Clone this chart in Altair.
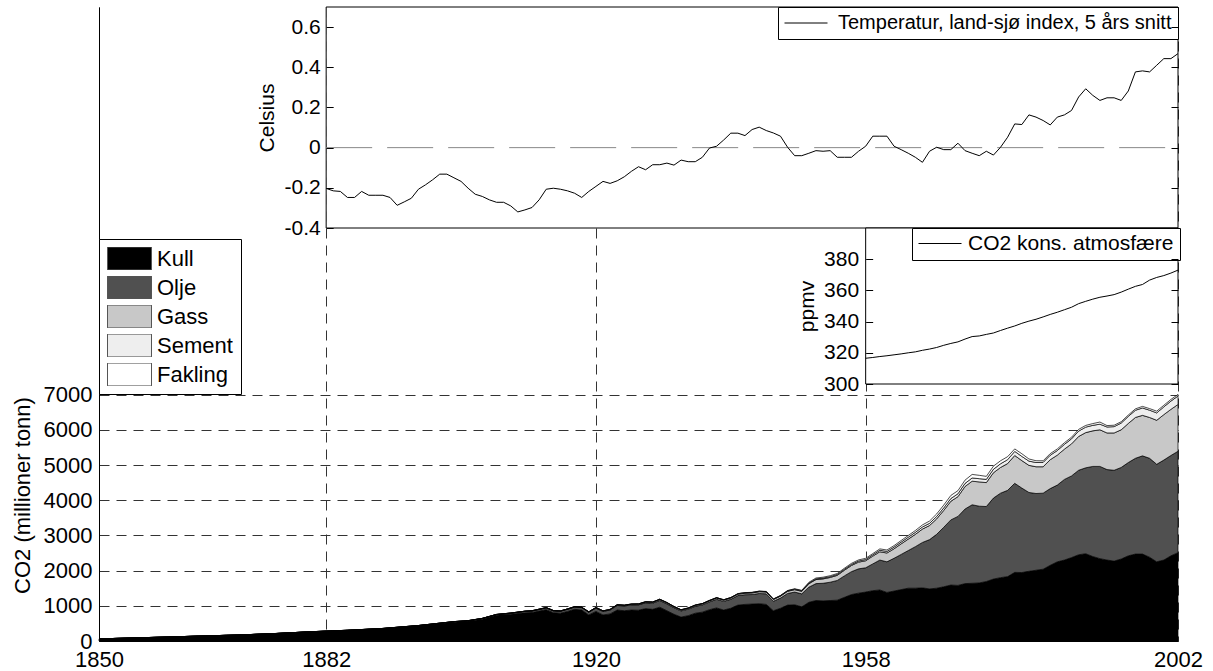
import altair as alt
import pandas as pd

FONT = "Liberation Sans"

# ---------------- data ----------------
fuels = ["Kull", "Olje", "Gass", "Sement", "Fakling"]
fuel_colors = ["#000000", "#505050", "#c8c8c8", "#eeeeee", "#ffffff"]

emis_years = [1850, 1855, 1860, 1865, 1870, 1875, 1880, 1885, 1890, 1895,
              1900, 1902, 1904, 1906, 1908] + list(range(1910, 2003))

kull = [60, 88, 115, 145, 172, 212, 262, 300, 350, 430, 535, 560, 620, 730, 760,
        800, 810, 850, 890, 805, 790, 840, 900, 880, 740,
        840, 740, 770, 880, 860, 880, 875, 920, 900, 960,
        860, 760, 680, 720, 790, 820, 890, 940, 880, 930,
        1020, 1040, 1050, 1060, 1040, 860, 930, 1020, 1030, 970,
        1100, 1150, 1140, 1150, 1160, 1240, 1320, 1360, 1390, 1430,
        1450, 1380, 1420, 1460, 1500, 1500, 1510, 1480, 1500, 1540,
        1590, 1580, 1630, 1640, 1650, 1690, 1760, 1800, 1830, 1950,
        1945, 1980, 2010, 2040, 2150, 2250, 2300, 2370, 2450, 2480,
        2400, 2340, 2300, 2270, 2330, 2420, 2470, 2470, 2380, 2250,
        2300, 2420, 2510]

olje = [0, 0, 0, 0, 1, 2, 3, 4, 5, 7, 12, 14, 18, 20, 28,
        40, 42, 45, 50, 52, 55, 60, 65, 68, 78,
        95, 100, 110, 130, 135, 145, 152, 165, 175, 190,
        195, 185, 175, 185, 195, 205, 220, 245, 245, 255,
        270, 275, 270, 290, 300, 270, 290, 330, 360, 370,
        430, 480, 500, 520, 560, 610, 650, 690, 690, 760,
        850, 870, 930, 1000, 1070, 1180, 1290, 1400, 1530, 1690,
        1850, 1960, 2120, 2230, 2180, 2130, 2300, 2400, 2450, 2530,
        2400, 2240, 2180, 2160, 2180, 2180, 2290, 2320, 2400, 2440,
        2560, 2620, 2570, 2580, 2600, 2650, 2720, 2790, 2810, 2770,
        2840, 2850, 2880]

gass = [0, 0, 0, 0, 0, 0, 0, 1, 2, 3, 4, 4, 5, 5, 6,
        7, 8, 8, 9, 9, 9, 10, 10, 10, 10,
        12, 12, 13, 15, 16, 18, 20, 22, 24, 27,
        28, 27, 25, 25, 27, 29, 32, 35, 35, 37,
        40, 42, 45, 50, 52, 50, 55, 62, 68, 72,
        97, 115, 125, 135, 145, 160, 175, 190, 200, 220,
        235, 250, 270, 300, 325, 350, 380, 400, 440, 480,
        530, 560, 640, 670, 690, 680, 720, 730, 760, 790,
        780, 770, 760, 750, 820, 850, 860, 910, 960, 1000,
        1010, 1040, 1040, 1060, 1070, 1110, 1160, 1150, 1160, 1250,
        1290, 1310, 1330]

sement = [0, 0, 0, 0, 0, 0, 0, 0, 0, 0, 0, 0, 0, 0, 0,
          0, 0, 0, 0, 0, 0, 0, 0, 0, 0,
          5, 5, 6, 7, 7, 8, 8, 9, 10, 10,
          10, 9, 8, 8, 9, 10, 11, 12, 12, 12,
          13, 13, 13, 12, 11, 9, 11, 13, 14, 14,
          18, 20, 22, 23, 26, 28, 30, 32, 35, 38,
          43, 45, 48, 50, 54, 57, 60, 63, 67, 71,
          78, 83, 88, 92, 92, 92, 98, 105, 112, 117,
          120, 121, 121, 125, 128, 131, 137, 143, 152, 156,
          157, 160, 170, 180, 192, 200, 205, 210, 207, 210,
          220, 235, 240]

fakling = [0, 0, 0, 0, 0, 0, 0, 0, 0, 0, 0, 0, 0, 0, 0,
           0, 0, 0, 0, 0, 0, 0, 0, 0, 0,
           0, 0, 0, 0, 0, 0, 0, 0, 0, 0,
           0, 0, 0, 0, 0, 0, 0, 0, 0, 0,
           5, 5, 5, 6, 6, 6, 8, 10, 12, 14,
           23, 25, 26, 27, 27, 29, 31, 32, 34, 35,
           39, 40, 42, 45, 48, 52, 58, 65, 72, 80,
           87, 88, 92, 100, 95, 85, 90, 85, 85, 70,
           75, 60, 50, 45, 45, 46, 46, 45, 50, 48,
           50, 60, 40, 40, 38, 40, 40, 45, 45, 50,
           46, 47, 45]

temp_years = list(range(1882, 2003))
temp = [-0.203, -0.215, -0.218, -0.248, -0.248, -0.218, -0.237, -0.237,
        -0.237, -0.248, -0.287, -0.270, -0.252, -0.207, -0.185, -0.160, -0.132, -0.132,
        -0.150, -0.168, -0.202, -0.232, -0.243, -0.260, -0.272, -0.272, -0.290, -0.320,
        -0.310, -0.298, -0.260, -0.207, -0.202, -0.207, -0.215, -0.227, -0.248, -0.218,
        -0.193, -0.168, -0.178, -0.165, -0.145, -0.118, -0.095, -0.110, -0.085, -0.085,
        -0.077, -0.087, -0.062, -0.070, -0.070, -0.048, -0.002, 0.007, 0.038, 0.072,
        0.072, 0.060, 0.090, 0.102, 0.085, 0.073, 0.057, 0.002, -0.040, -0.040,
        -0.028, -0.015, -0.018, -0.015, -0.048, -0.048, -0.048, -0.018, 0.007, 0.057,
        0.057, 0.057, 0.007, -0.010, -0.028, -0.048, -0.073, -0.018, 0.002, -0.010,
        -0.010, 0.022, -0.015, -0.028, -0.040, -0.018, -0.037, 0.002, 0.052, 0.118,
        0.115, 0.163, 0.152, 0.135, 0.113, 0.152, 0.163, 0.185, 0.252, 0.293,
        0.260, 0.235, 0.248, 0.248, 0.235, 0.282, 0.377, 0.382, 0.377, 0.410,
        0.443, 0.443, 0.468]

co2_years = list(range(1958, 2003))
co2_ppm = [316.5, 317.0, 317.6, 318.1, 318.7, 319.3, 320.0, 320.6, 321.6, 322.4,
           323.4, 324.8, 326.0, 327.0, 328.8, 330.4, 330.8, 331.8, 332.7, 334.3,
           335.8, 337.2, 338.9, 340.3, 341.5, 343.0, 344.6, 346.0, 347.6, 349.2,
           351.5, 353.0, 354.4, 355.6, 356.4, 357.3, 358.9, 360.8, 362.6, 363.8,
           366.6, 368.3, 369.5, 371.1, 373.0]

temp_label = "Temperatur, land-sjø index, 5 års snitt"
co2_label = "CO2 kons. atmosfære"

x_ticks = [1850, 1882, 1920, 1958, 2002]
emis_ticks = [0, 1000, 2000, 3000, 4000, 5000, 6000, 7000]
temp_ticks = [-0.4, -0.2, 0, 0.2, 0.4, 0.6]
co2_ticks = [300, 320, 340, 360, 380]
temp_domain = [-0.4, 0.7]
co2_domain = [300, 400]

# ---------------- layout ----------------
W, H = 1079, 634
YEAR0, YEAR1 = emis_years[0], emis_years[-1]


def xpx(yr):
    return (yr - YEAR0) * W / (YEAR1 - YEAR0)


EMIS_PX_PER_UNIT = 0.0352
emis_ymax = H / EMIS_PX_PER_UNIT
TEMP_BOTTOM = 221
CO2_BOTTOM = 377
xT0 = xpx(temp_years[0])
xC0 = xpx(co2_years[0])

GRID_DASH = [10, 7]
GRID_COLOR = "#333333"

# ---------------- tables ----------------
series = [kull, olje, gass, sement, fakling]
rows = []
for rank, (name, vals) in enumerate(zip(fuels, series)):
    for yr, v in zip(emis_years, vals):
        rows.append({"year": yr, "fuel": name, "value": v, "rank": rank})
emis_df = pd.DataFrame(rows)

temp_df = pd.DataFrame({"year": temp_years, "t": temp, "serie": temp_label})
co2_df = pd.DataFrame({"year": co2_years, "ppm": co2_ppm, "serie": co2_label})

temp_box = pd.DataFrame({"x0": [temp_years[0]], "x1": [temp_years[-1]],
                         "y0": [temp_domain[0]], "y1": [temp_domain[1]]})
co2_box = pd.DataFrame({"x0": [co2_years[0]], "x1": [co2_years[-1]],
                        "y0": [co2_domain[0]], "y1": [co2_domain[1]]})
zero_df = pd.DataFrame({"x0": [temp_years[0]], "x1": [temp_years[-1]], "t": [0]})

# ---------------- scales ----------------
x_emis = alt.Scale(domain=[YEAR0, YEAR1], range=[0, W], nice=False, zero=False)
y_emis = alt.Scale(domain=[0, emis_ymax], range=[H, 0], nice=False, zero=False)
x_temp = alt.Scale(domain=[temp_years[0], temp_years[-1]], range=[xT0, W], nice=False, zero=False)
y_temp = alt.Scale(domain=temp_domain, range=[TEMP_BOTTOM, 0], nice=False, zero=False)
x_co2 = alt.Scale(domain=[co2_years[0], co2_years[-1]], range=[xC0, W], nice=False, zero=False)
y_co2 = alt.Scale(domain=co2_domain, range=[CO2_BOTTOM, TEMP_BOTTOM], nice=False, zero=False)

minus_fmt = ("datum.value == 0 ? '0' : (datum.value < 0 ? '-' + format(-datum.value, '.1f')"
             " : format(datum.value, '.1f'))")


def tick_axis(orient, offset, values):
    return alt.Axis(orient=orient, offset=offset, values=values, labels=False,
                    domain=False, ticks=True, tickSize=7, tickColor="black",
                    grid=False, title=None, zindex=1)


# ---------------- layers ----------------
area = alt.Chart(emis_df).mark_area(
    stroke="black", strokeWidth=0.7, opacity=1, interpolate="linear"
).encode(
    x=alt.X("year:Q", scale=x_emis,
            axis=alt.Axis(values=x_ticks, format="d", grid=True, gridDash=GRID_DASH,
                          gridColor=GRID_COLOR, gridWidth=1, ticks=False, domain=True,
                          domainColor="black", labelPadding=8, labelFlush=False,
                          labelOverlap=False, labelFontSize=22, title=None)),
    y=alt.Y("value:Q", stack="zero", scale=y_emis,
            axis=alt.Axis(values=emis_ticks, format="d", grid=True, gridDash=GRID_DASH,
                          gridColor=GRID_COLOR, gridWidth=1, ticks=False, domain=True,
                          domainColor="black", labelPadding=7, labelFontSize=22,
                          title="CO2 (millioner tonn)", titleFontSize=22,
                          titleX=-77, titleY=488, titleAngle=-90, titleAlign="center",
                          titleBaseline="middle")),
    fill=alt.Fill("fuel:N", scale=alt.Scale(domain=fuels, range=fuel_colors),
                  legend=alt.Legend(orient="none", legendX=0, legendY=232, title=None,
                                    symbolType="M-1,-0.52H1V0.52H-1Z", symbolSize=1936,
                                    symbolStrokeColor="#555555", symbolStrokeWidth=1,
                                    clipHeight=23, rowPadding=6, labelFontSize=22,
                                    labelOffset=5, padding=8, strokeColor="black",
                                    fillColor="white", cornerRadius=0, labelLimit=400)),
    order=alt.Order("rank:Q", sort="ascending"),
)

temp_bg = alt.Chart(temp_box).mark_rect(fill="white", stroke="black", strokeWidth=1).encode(
    x=alt.X("x0:Q", scale=x_temp, axis=None),
    x2="x1:Q",
    y=alt.Y("y0:Q", scale=y_temp, axis=tick_axis("right", -(W - xT0), temp_ticks)),
    y2="y1:Q",
)

temp_zero = alt.Chart(zero_df).mark_rule(color="#888888", strokeWidth=1,
                                         strokeDash=[46, 15]).encode(
    x=alt.X("x0:Q", scale=x_temp, axis=None),
    x2="x1:Q",
    y=alt.Y("t:Q", scale=y_temp, axis=tick_axis("left", -W, temp_ticks)),
)

temp_line = alt.Chart(temp_df).mark_line(strokeWidth=1).encode(
    x=alt.X("year:Q", scale=x_temp, axis=None),
    y=alt.Y("t:Q", scale=y_temp,
            axis=alt.Axis(orient="left", offset=-xT0, values=temp_ticks, labelExpr=minus_fmt,
                          domain=False, ticks=False, grid=False, labelPadding=6,
                          title="Celsius", titlePadding=6, zindex=1)),
    stroke=alt.Stroke("serie:N", scale=alt.Scale(domain=[temp_label], range=["black"]),
                      legend=alt.Legend(orient="top-right", offset=0, title=None,
                                        symbolType="stroke", symbolSize=1849,
                                        symbolStrokeWidth=1, labelFontSize=20,
                                        labelOffset=10, padding=6, clipHeight=20,
                                        strokeColor="black", fillColor="white",
                                        cornerRadius=0, labelLimit=600)),
)

co2_bg = alt.Chart(co2_box).mark_rect(fill="white", stroke="black", strokeWidth=1).encode(
    x=alt.X("x0:Q", scale=x_co2, axis=None),
    x2="x1:Q",
    y=alt.Y("y0:Q", scale=y_co2, axis=tick_axis("right", -(W - xC0), co2_ticks)),
    y2="y1:Q",
)

co2_ticks_layer = alt.Chart(co2_df).mark_point(opacity=0).encode(
    x=alt.X("year:Q", scale=x_co2, axis=None),
    y=alt.Y("ppm:Q", scale=y_co2, axis=tick_axis("left", -W, co2_ticks)),
)

co2_line = alt.Chart(co2_df).mark_line(strokeWidth=1).encode(
    x=alt.X("year:Q", scale=x_co2, axis=None),
    y=alt.Y("ppm:Q", scale=y_co2,
            axis=alt.Axis(orient="left", offset=-xC0, values=co2_ticks, format="d",
                          domain=False, ticks=False, grid=False, labelPadding=7,
                          title="ppmv", titlePadding=6, zindex=1)),
    stroke=alt.Stroke("serie:N", scale=alt.Scale(domain=[co2_label], range=["black"]),
                      legend=alt.Legend(orient="none", legendX=813, legendY=TEMP_BOTTOM,
                                        title=None, symbolType="stroke", symbolSize=1849,
                                        symbolStrokeWidth=1, labelFontSize=21,
                                        labelOffset=6, padding=6, clipHeight=19,
                                        strokeColor="black", fillColor="white",
                                        cornerRadius=0, labelLimit=600)),
)

chart = alt.layer(
    area, temp_bg, temp_zero, temp_line, co2_bg, co2_ticks_layer, co2_line
).resolve_scale(
    x="independent", y="independent", fill="independent", stroke="independent"
).resolve_axis(
    x="independent", y="independent"
).resolve_legend(
    fill="independent", stroke="independent"
).properties(
    width=W, height=H,
    padding={"left": 99, "top": 7, "right": 35, "bottom": 30},
    autosize=alt.AutoSizeParams(type="none"),
    background="white",
).configure_view(
    stroke=None
).configure_axis(
    labelFont=FONT, titleFont=FONT, labelColor="black", titleColor="black",
    titleFontWeight="normal", labelFontSize=21, titleFontSize=21,
    domainColor="black", tickColor="black",
).configure_legend(
    labelFont=FONT, labelColor="black",
)

chart.save("out.html", embed_options={"renderer": "svg", "actions": False})
